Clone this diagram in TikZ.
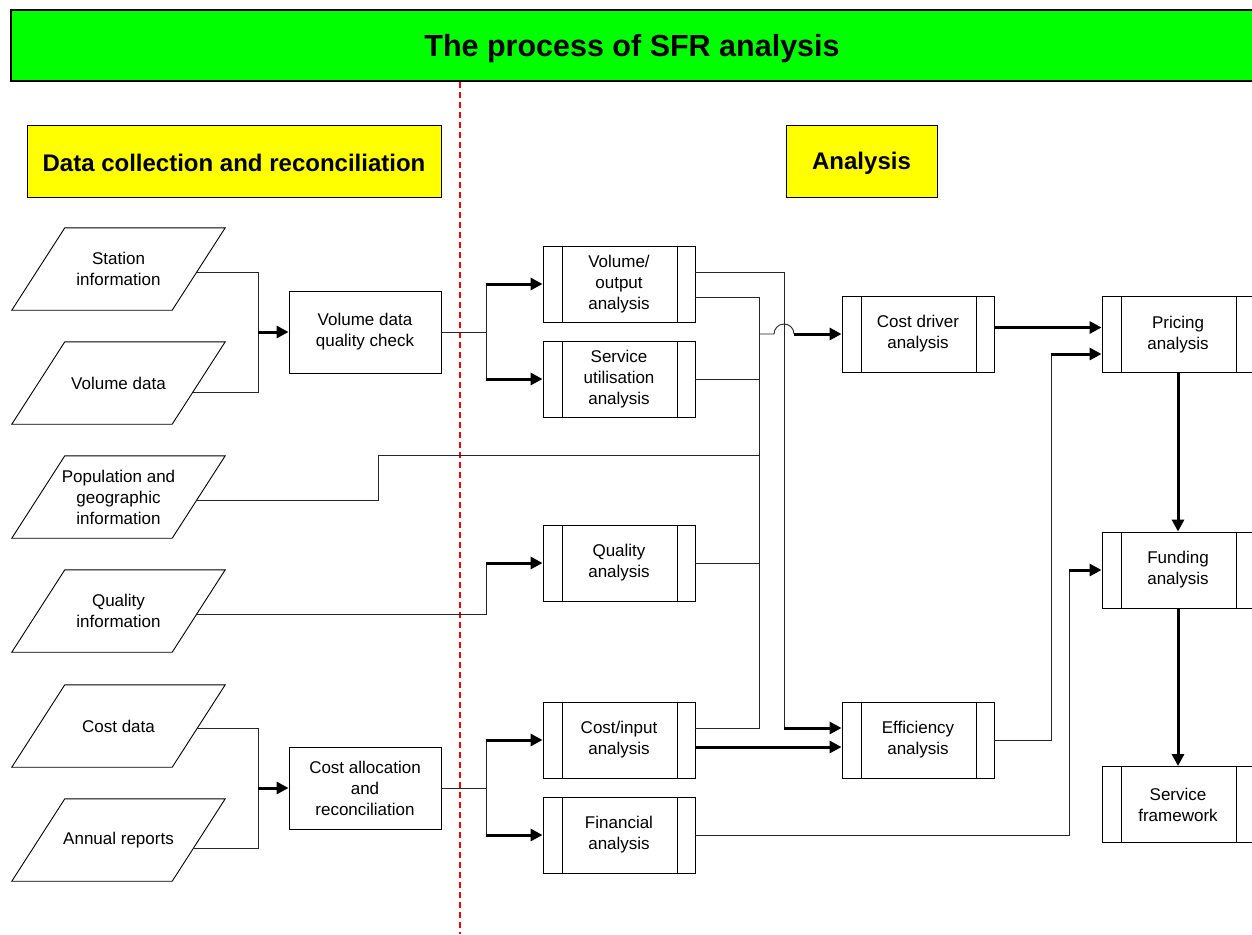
\documentclass[tikz,border=0pt]{standalone}
\usepackage{fontspec}
\setmainfont{Liberation Sans}
\usetikzlibrary{arrows.meta,calc}
\newcommand\mybody{\fontsize{17}{21}\selectfont}
\newcommand\lowered[2]{\raisebox{-#1}[\height][\depth]{#2}}
\newcommand\drawpara[1]{\draw[line width=0.9pt] ([xshift=53pt]#1.north west) -- (#1.north east) -- ([xshift=-53pt]#1.south east) -- (#1.south west) -- cycle;}
\begin{document}
\begin{tikzpicture}[x=1pt,y=-1pt,
  conn/.style={line width=0.9pt, draw=black!85},
  arr/.style={line width=3pt, -{Triangle[length=12pt,width=12pt]}},
  titlebox/.style={draw, line width=1.2pt, fill={rgb,255:red,0;green,255;blue,0}, minimum width=1242pt, minimum height=71pt, inner sep=0pt, font=\fontsize{30.5}{34}\selectfont\bfseries},
  headbox/.style={draw, line width=0.9pt, fill={rgb,255:red,255;green,255;blue,0}, minimum height=72pt, inner sep=0pt, font=\fontsize{24}{28}\selectfont\bfseries},
  inbox/.style={minimum width=213pt, minimum height=82pt, inner sep=0pt, align=center, font=\mybody},
  box/.style={draw, line width=0.9pt, minimum width=152pt, minimum height=82pt, inner sep=0pt, align=center, font=\mybody},
  proc/.style={draw, line width=0.9pt, minimum width=152pt, minimum height=76pt, inner sep=0pt, align=center, font=\mybody,
    path picture={
      \draw[line width=0.9pt] ([xshift=19pt]path picture bounding box.north west) -- ([xshift=19pt]path picture bounding box.south west);
      \draw[line width=0.9pt] ([xshift=-18pt]path picture bounding box.north east) -- ([xshift=-18pt]path picture bounding box.south east);
    }},
  reddash/.style={draw={rgb,255:red,255;green,0;blue,0}, line width=2pt, dash pattern=on 6pt off 4pt}
]
\useasboundingbox (0,0) rectangle (1252,934);

% title and headings
\node[titlebox] (ttl) at (632,45.5) {\lowered{3pt}{The process of SFR analysis}};
\coordinate (dl) at (460,934);
\draw[reddash] (dl |- ttl.south) -- (dl);
\node[headbox, minimum width=414pt] (h1) at (234,161) {\lowered{1.5pt}{Data collection and reconciliation}};
\node[headbox, minimum width=151pt] (h2) at (861.5,161) {\lowered{2.5pt}{Analysis}};

% input parallelograms
\node[inbox] (st)   at (118.5,269) {Station\\information};
\node[inbox] (vd)   at (118.5,383) {Volume data};
\node[inbox] (pop)  at (118.5,497) {Population and\\geographic\\information};
\node[inbox] (qi)   at (118.5,611) {Quality\\information};
\node[inbox] (cdat) at (118.5,726) {Cost data};
\node[inbox] (ar)   at (118.5,840) {Annual reports};
\drawpara{st}
\drawpara{vd}
\drawpara{pop}
\drawpara{qi}
\drawpara{cdat}
\drawpara{ar}

% process boxes
\node[box] (vq) at (365,332) {Volume data\\quality check};
\node[box] (ca) at (365,788) {Cost allocation\\and\\reconciliation};

\node[proc] (vo) at (619,284) {Volume/\\output\\analysis};
\node[proc] (su) at (619,379) {Service\\utilisation\\analysis};
\node[proc] (qa) at (619,563) {Quality\\analysis};
\node[proc] (ci) at (619,740) {Cost/input\\analysis};
\node[proc] (fa) at (619,835) {Financial\\analysis};

\node[proc] (cd) at (918,334) {Cost driver\\analysis};
\node[proc] (ef) at (918,740) {Efficiency\\analysis};

\node[proc] (pr) at (1178,334.5) {Pricing\\analysis};
\node[proc] (fu) at (1178,570) {Funding\\analysis};
\node[proc] (sf) at (1178,804.5) {Service\\framework};

% junction coordinates
\coordinate (jL) at (258,0);
\coordinate (jR) at (486,0);
\coordinate (popK) at (378,455);
\coordinate (bus) at (759,0);
\coordinate (busB) at (784,0);
\coordinate (jP) at (1051,0);
\coordinate (jF) at (1069,0);

% points on the slanted right edges of the inputs
\coordinate (s1) at ($(st.north east)!0.54!([xshift=-53pt]st.south east)$);
\coordinate (v1) at ($(vd.north east)!0.61!([xshift=-53pt]vd.south east)$);
\coordinate (p1) at ($(pop.north east)!0.54!([xshift=-53pt]pop.south east)$);
\coordinate (q1) at ($(qi.north east)!0.54!([xshift=-53pt]qi.south east)$);
\coordinate (c1) at ($(cdat.north east)!0.53!([xshift=-53pt]cdat.south east)$);
\coordinate (a1) at ($(ar.north east)!0.6!([xshift=-53pt]ar.south east)$);

% volume data side
\draw[conn] (s1) -- (jL |- s1) -- (jL |- v1) -- (v1);
\draw[arr] (jL |- vq.west) -- (vq.west);
\draw[conn] (vq.east) -- (jR |- vq.east);
\draw[conn] (jR |- vo.west) -- (jR |- su.west);
\draw[arr] (jR |- vo.west) -- (vo.west);
\draw[arr] (jR |- su.west) -- (su.west);

% cost side
\draw[conn] (c1) -- (jL |- c1) -- (jL |- a1) -- (a1);
\draw[arr] (jL |- ca.west) -- (ca.west);
\draw[conn] (ca.east) -- (jR |- ca.east);
\draw[conn] (jR |- ci.west) -- (jR |- fa.west);
\draw[arr] (jR |- ci.west) -- (ci.west);
\draw[arr] (jR |- fa.west) -- (fa.west);

% population
\draw[conn] (p1) -- (popK |- p1) -- (popK) -- (bus |- popK);

% quality information
\draw[conn] (q1) -- (jR |- q1) -- (jR |- qa.west);
\draw[arr] (jR |- qa.west) -- (qa.west);

% bus
\coordinate (voA) at ([yshift=12pt]vo.east);
\coordinate (voB) at ([yshift=-13pt]vo.east);
\coordinate (ciA) at ([yshift=12pt]ci.east);
\coordinate (ciB) at ([yshift=-7pt]ci.east);
\coordinate (efA) at ([yshift=12pt]ef.west);
\coordinate (efB) at ([yshift=-7pt]ef.west);
\draw[conn] (voB) -- (bus |- voB) -- (bus |- ciA) -- (ciA);
\draw[conn] (su.east) -- (bus |- su.east);
\draw[conn] (qa.east) -- (bus |- qa.east);
\draw[conn] (voA) -- (busB |- voA) -- (busB |- efA);
\draw[arr] (busB |- efA) -- (efA);
\draw[arr] (ciB) -- (efB);
\draw[conn] (bus |- cd.west) -- ++(15pt,0) arc[start angle=180,end angle=0,radius=10pt] coordinate (hopE);
\draw[arr] (hopE) -- (cd.west);

% right side
\coordinate (cdo) at ([yshift=6.5pt]cd.east);
\draw[arr] (cdo) -- (cdo -| pr.west);
\coordinate (prB) at ([yshift=-19.5pt]pr.west);
\draw[conn] (ef.east) -- (jP |- ef.east) -- (jP |- prB);
\draw[arr] (jP |- prB) -- (prB);
\draw[conn] (fa.east) -- (jF |- fa.east) -- (jF |- fu.west);
\draw[arr] (jF |- fu.west) -- (fu.west);
\draw[arr] (pr.south) -- (fu.north);
\draw[arr] (fu.south) -- (sf.north);
\end{tikzpicture}
\end{document}
